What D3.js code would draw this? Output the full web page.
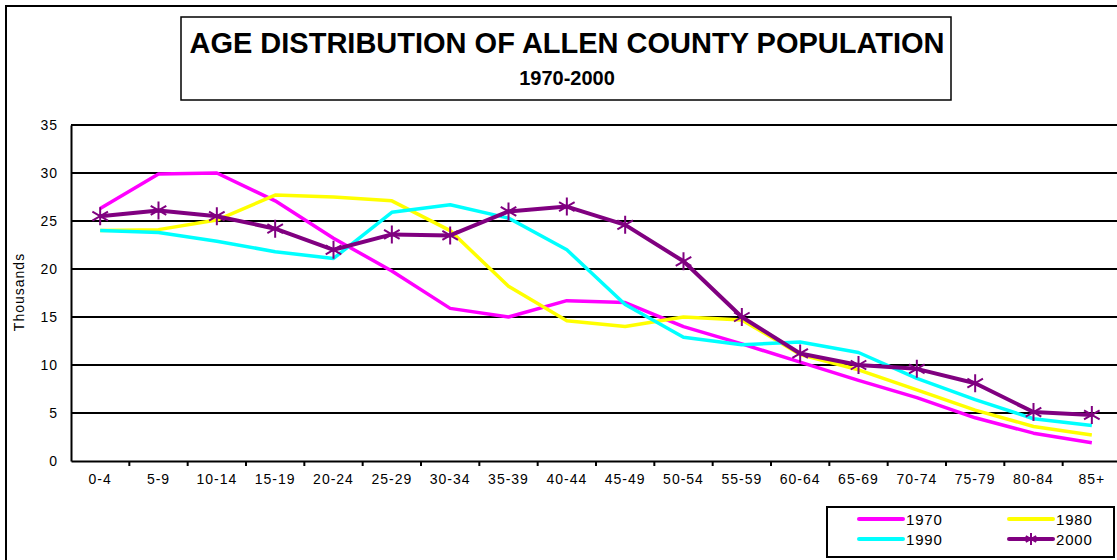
<!DOCTYPE html>
<html>
<head>
<meta charset="utf-8">
<script src="https://cdn.jsdelivr.net/npm/d3@7"></script>
<style>
  body { margin: 0; background: #fff; }
  svg { display: block; font-family: "Liberation Sans", Arial, sans-serif; }
</style>
</head>
<body>
<svg id="chart" width="1117" height="560"></svg>
<script>
// age groups along the x axis
var ageGroups = ['0-4','5-9','10-14','15-19','20-24','25-29','30-34','35-39','40-44',
  '45-49','50-54','55-59','60-64','65-69','70-74','75-79','80-84','85+'];

// population in thousands
var pop1970 = [26.3, 29.9, 30.0, 27.1, 23.2, 19.8, 15.9, 15.0, 16.7, 16.5, 14.0, 12.2, 10.3, 8.4, 6.6, 4.5, 2.9, 1.9];
var pop1980 = [24.0, 24.1, 25.1, 27.7, 27.5, 27.1, 24.0, 18.2, 14.6, 14.0, 15.0, 14.7, 11.1, 9.5, 7.4, 5.3, 3.6, 2.7];
var pop1990 = [24.0, 23.8, 22.9, 21.8, 21.1, 25.9, 26.7, 25.3, 22.0, 16.3, 12.9, 12.1, 12.4, 11.3, 8.6, 6.4, 4.4, 3.7];
var pop2000 = [25.5, 26.1, 25.5, 24.2, 22.0, 23.6, 23.5, 26.0, 26.5, 24.6, 20.8, 15.0, 11.2, 10.0, 9.6, 8.1, 5.1, 4.8];

var yTicks = [0, 5, 10, 15, 20, 25, 30, 35];

var series = [
  {name: '1970', values: pop1970, color: '#ff00ff', star: false},
  {name: '1980', values: pop1980, color: '#ffff00', star: false},
  {name: '1990', values: pop1990, color: '#00ffff', star: false},
  {name: '2000', values: pop2000, color: '#800080', star: true}
];

var svg = d3.select('#chart');

// outer chart frame (runs off the right/bottom edge like the original)
svg.append('rect')
  .attr('x', 6).attr('y', 6).attr('width', 1130).attr('height', 570)
  .attr('fill', 'none').attr('stroke', '#000').attr('stroke-width', 2);

// title box
svg.append('rect')
  .attr('x', 181).attr('y', 17).attr('width', 770).attr('height', 83)
  .attr('fill', '#fff').attr('stroke', '#000').attr('stroke-width', 1.5);
svg.append('text')
  .attr('x', 567).attr('y', 53)
  .attr('text-anchor', 'middle')
  .style('font-size', '29px').style('font-weight', 'bold')
  .text('AGE DISTRIBUTION OF ALLEN COUNTY POPULATION');
svg.append('text')
  .attr('x', 567).attr('y', 85)
  .attr('text-anchor', 'middle')
  .style('font-size', '20px').style('font-weight', 'bold')
  .text('1970-2000');

var x = d3.scaleBand().domain(ageGroups).range([71, 1121]).padding(0);
var y = d3.scaleLinear().domain([0, 35]).range([461, 125]);

// horizontal gridlines
svg.append('g')
  .selectAll('line')
  .data(yTicks.filter(function(d){ return d > 0; }))
  .join('line')
  .attr('x1', 71).attr('x2', 1121)
  .attr('y1', function(d){ return y(d); })
  .attr('y2', function(d){ return y(d); })
  .attr('stroke', '#000').attr('stroke-width', 2);

// y axis
var yAxis = svg.append('g')
  .attr('transform', 'translate(71,0)')
  .call(d3.axisLeft(y).tickValues(yTicks).tickSize(0).tickPadding(13));
yAxis.select('.domain').attr('stroke', '#000').attr('stroke-width', 2);
yAxis.selectAll('text')
  .style('font-size', '14px').style('letter-spacing', '1px')
  .style('font-family', '"Liberation Sans", Arial, sans-serif').attr('fill', '#000');

svg.append('text')
  .attr('transform', 'translate(24,292) rotate(-90)')
  .attr('text-anchor', 'middle')
  .style('font-size', '14px').style('letter-spacing', '1px')
  .text('Thousands');

// x axis: labels centered in each band, ticks on band boundaries
var xAxis = svg.append('g')
  .attr('transform', 'translate(0,461)')
  .call(d3.axisBottom(x).tickSize(0).tickPadding(13));
xAxis.select('.domain').attr('stroke', '#000').attr('stroke-width', 2);
xAxis.selectAll('text')
  .style('font-size', '14px').style('letter-spacing', '1px')
  .style('font-family', '"Liberation Sans", Arial, sans-serif').attr('fill', '#000');

svg.append('g')
  .selectAll('line')
  .data(ageGroups.slice(1))
  .join('line')
  .attr('x1', function(d){ return x(d); })
  .attr('x2', function(d){ return x(d); })
  .attr('y1', 461).attr('y2', 466)
  .attr('stroke', '#000').attr('stroke-width', 2);

var line = d3.line()
  .x(function(d, i){ return x(ageGroups[i]) + x.bandwidth() / 2; })
  .y(function(d){ return y(d); });

// asterisk marker path centered on 0,0
function starPath(r) {
  var d = '';
  [90, 30, 150].forEach(function(a) {
    var rad = a * Math.PI / 180;
    var dx = r * Math.cos(rad), dy = r * Math.sin(rad);
    d += 'M' + (-dx) + ',' + (-dy) + 'L' + dx + ',' + dy;
  });
  return d;
}

series.forEach(function(s) {
  svg.append('path')
    .datum(s.values)
    .attr('fill', 'none')
    .attr('stroke', s.color)
    .attr('stroke-width', s.star ? 4 : 3.5)
    .attr('stroke-linejoin', 'round')
    .attr('d', line);

  if (s.star) {
    svg.append('g')
      .selectAll('path')
      .data(s.values)
      .join('path')
      .attr('transform', function(d, i){
        return 'translate(' + (x(ageGroups[i]) + x.bandwidth() / 2) + ',' + y(d) + ')';
      })
      .attr('d', starPath(9))
      .attr('stroke', s.color)
      .attr('stroke-width', 2)
      .attr('fill', 'none');
  }
});

// legend box
var legend = svg.append('g');
legend.append('rect')
  .attr('x', 827).attr('y', 507).attr('width', 287).attr('height', 50)
  .attr('fill', '#fff').attr('stroke', '#000').attr('stroke-width', 2);

var legendPos = [
  {lx: 859, ly: 519},
  {lx: 1009, ly: 519},
  {lx: 859, ly: 539},
  {lx: 1009, ly: 539}
];

series.forEach(function(s, i) {
  var p = legendPos[i];
  legend.append('line')
    .attr('x1', p.lx).attr('x2', p.lx + 44)
    .attr('y1', p.ly).attr('y2', p.ly)
    .attr('stroke', s.color).attr('stroke-width', 4)
    .attr('stroke-linecap', 'round');
  if (s.star) {
    legend.append('path')
      .attr('transform', 'translate(' + (p.lx + 22) + ',' + p.ly + ')')
      .attr('d', starPath(6))
      .attr('stroke', s.color).attr('stroke-width', 2);
  }
  legend.append('text')
    .attr('x', p.lx + 47).attr('y', p.ly + 6)
    .style('font-size', '15px').style('letter-spacing', '0.8px')
    .text(s.name);
});
</script>
</body>
</html>
